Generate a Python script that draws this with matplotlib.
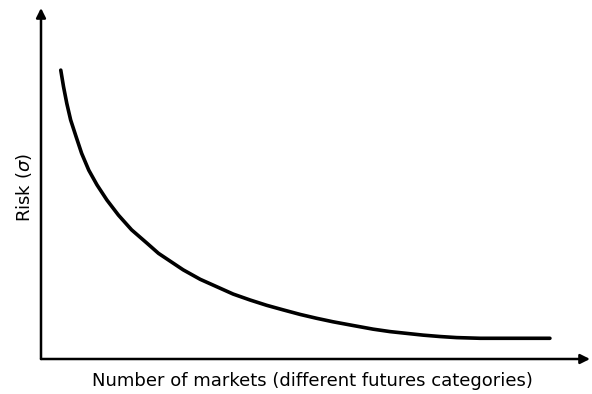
import matplotlib
matplotlib.use("Agg")
import matplotlib.pyplot as plt

# Number of markets (arbitrary units) and risk (arbitrary units)
markets = [3.6, 4.1, 4.7, 5.4, 6.4, 7.4, 8.7, 10.2, 12.0, 14.1, 16.5, 19.3, 21.4,
           25.9, 29.0, 32.0, 35.0, 38.1, 41.1, 44.1, 47.2, 50.2, 53.2, 56.3,
           60.5, 63.6, 66.6, 69.6, 72.7, 75.7, 80.0, 86.0, 92.7]
risk = [82.3, 77.6, 72.8, 68.1, 63.3, 58.6, 53.8, 49.6, 45.3, 41.0, 36.8, 33.0, 30.1,
        25.4, 22.7, 20.6, 18.5, 16.8, 15.3, 14.0, 12.7, 11.6, 10.6, 9.7,
        8.5, 7.8, 7.3, 6.8, 6.4, 6.1, 5.9, 5.9, 5.9]

xlabel = "Number of markets (different futures categories)"
ylabel = "Risk ($\\sigma$)"

fig = plt.figure(figsize=(5.92, 3.94), dpi=100)
ax = fig.add_axes([41/592, 35/394, 549/592, 351/394])
ax.set_xlim(0, 100)
ax.set_ylim(0, 100)
ax.plot(markets, risk, color="black", lw=2.6, solid_capstyle="round", solid_joinstyle="round")

for s in ax.spines.values():
    s.set_visible(False)
ax.set_xticks([])
ax.set_yticks([])

arrow = dict(arrowstyle="-|>", lw=1.8, color="black", mutation_scale=14, shrinkA=0, shrinkB=0)
ax.annotate("", xy=(1.0, 0), xytext=(0, 0), xycoords="axes fraction", arrowprops=arrow, annotation_clip=False)
ax.annotate("", xy=(0, 1.0), xytext=(0, 0), xycoords="axes fraction", arrowprops=arrow, annotation_clip=False)

fig.text(312/592, 1 - 381/394, xlabel, ha="center", va="center", fontsize=13, family="DejaVu Sans")
fig.text(24/592, 1 - 188/394, ylabel, ha="center", va="center", rotation=90, fontsize=13, family="DejaVu Sans")

fig.savefig("out.png", dpi=100)
